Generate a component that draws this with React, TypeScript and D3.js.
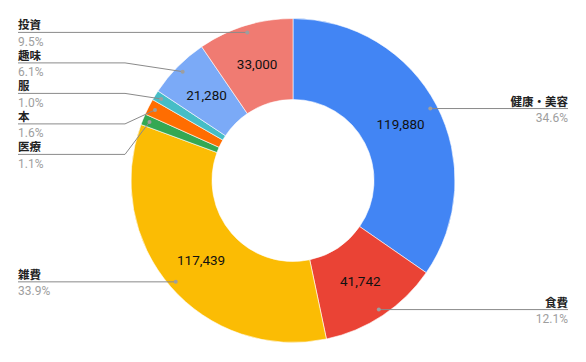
import React, { useRef, useEffect } from 'react'
import { select, pie, arc, format } from 'd3'

const categories = ['健康・美容', '食費', '雑費', '医療', '本', '服', '趣味', '投資']
const amounts = [119880, 41742, 117439, 3800, 5540, 3460, 21280, 33000]
const colors = ['#4285f4', '#ea4335', '#fbbc04', '#34a853', '#ff6d01', '#46bdc6', '#7baaf7', '#f07b72']
// slices big enough to carry their value inside
const showValue = [true, true, true, false, false, false, true, true]

const W = 586, H = 362
const cx = 293, cy = 180.5
const outerR = 162, innerR = 81
const dotR = 155
const FONT = "Roboto, 'Noto Sans CJK JP', sans-serif"

export default function App () {
  const ref = useRef<SVGSVGElement>(null)

  useEffect(() => {
    if (ref.current === null) return
    const svg = select(ref.current)
    svg.selectAll('*').remove()

    const data = categories.map((c, i) => ({ name: c, value: amounts[i], color: colors[i], show: showValue[i] }))
    const total = amounts.reduce((a, b) => a + b, 0)
    const arcs = pie<any>().sort(null).value((d: any) => d.value)(data)
    const path = arc<any>().innerRadius(innerR).outerRadius(outerR)
    const labelArc = arc<any>().innerRadius(dotR).outerRadius(dotR)
    const fmt = format(',')
    const pct = (v: number) => (v / total * 100).toFixed(1) + '%'

    const g = svg.append('g').attr('transform', `translate(${cx},${cy})`)
    g.selectAll('path.slice')
      .data(arcs)
      .enter()
      .append('path')
      .attr('class', 'slice')
      .attr('d', path as any)
      .attr('fill', (d: any) => d.data.color)
      .attr('stroke', '#fff')
      .attr('stroke-width', 0.6)

    g.selectAll('text.val')
      .data(arcs.filter((d: any) => d.data.show))
      .enter()
      .append('text')
      .attr('class', 'val')
      .attr('transform', (d: any) => `translate(${path.centroid(d)})`)
      .attr('text-anchor', 'middle')
      .attr('dy', '0.35em')
      .attr('font-family', FONT)
      .attr('font-size', 13.5)
      .attr('fill', '#111')
      .text((d: any) => fmt(d.data.value))

    // leader labels
    const leftX = 18, rightX = 568, elbowX = 125, spacing = 30.5
    const items = arcs.map((d: any) => {
      const [x, y] = labelArc.centroid(d)
      return { d, x: x + cx, y: y + cy, right: x > 0 }
    })
    // top-left cluster of small/neighbouring slices stacked from the topmost
    const leftTop = items.filter(it => !it.right && it.y < cy).sort((a, b) => a.y - b.y)
    leftTop.forEach((it: any, i) => { it.ly = leftTop[0].y + i * spacing })
    items.forEach((it: any) => { if (it.ly === undefined) it.ly = it.y })

    const lg = svg.append('g')
    items.forEach((it: any) => {
      const lx = it.right ? rightX : leftX
      let pts: [number, number][]
      if (Math.abs(it.ly - it.y) < 1) pts = [[lx, it.ly], [it.x, it.ly]]
      else pts = [[lx, it.ly], [elbowX, it.ly], [it.x, it.y]]
      lg.append('polyline')
        .attr('points', pts.map(p => p.join(',')).join(' '))
        .attr('fill', 'none')
        .attr('stroke', '#8a8a8a')
        .attr('stroke-width', 1)
      lg.append('circle')
        .attr('cx', it.x)
        .attr('cy', it.y)
        .attr('r', 2)
        .attr('fill', '#9e9e9e')
      const anchor = it.right ? 'end' : 'start'
      lg.append('text')
        .attr('x', lx)
        .attr('y', it.ly - 3)
        .attr('text-anchor', anchor)
        .attr('font-family', FONT)
        .attr('font-size', 11.5)
        .attr('font-weight', 'bold')
        .attr('fill', '#222')
        .text(it.d.data.name)
      lg.append('text')
        .attr('x', lx)
        .attr('y', it.ly + 13.5)
        .attr('text-anchor', anchor)
        .attr('font-family', FONT)
        .attr('font-size', 12)
        .attr('fill', '#9e9e9e')
        .text(pct(it.d.data.value))
    })
  }, [])

  return <svg ref={ref} width={W} height={H} style={{ position: 'absolute', left: 0, top: 0, background: '#fff' }} />
}
